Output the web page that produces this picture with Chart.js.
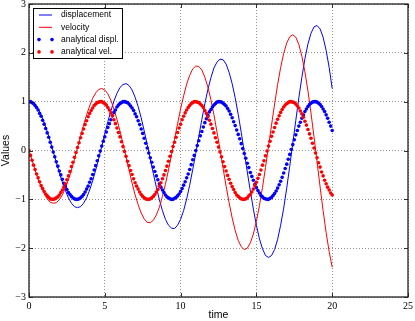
<!DOCTYPE html>
<html>
<head>
<meta charset="utf-8">
<script src="https://cdn.jsdelivr.net/npm/chart.js@4/dist/chart.umd.min.js"></script>
<style>
html,body{margin:0;padding:0;background:#fff;}
#wrap{width:415px;height:321px;}
</style>
</head>
<body>
<div id="wrap"><canvas id="c" width="415" height="321"></canvas></div>
<script>
// ---- DATA ----
const seriesLabels = ['displacement', 'velocity', 'analytical displ.', 'analytical vel.'];
const xTickValues = [0, 5, 10, 15, 20, 25];
const yTickValues = [-3, -2, -1, 0, 1, 2, 3];

// time stamps of the numerical solution (lines)
const timeCoarse = [
0,0.2,0.4,0.6,0.8,1,1.2,1.4,1.6,1.8,
2,2.2,2.4,2.6,2.8,3,3.2,3.4,3.6,3.8,
4,4.2,4.4,4.6,4.8,5,5.2,5.4,5.6,5.8,
6,6.2,6.4,6.6,6.8,7,7.2,7.4,7.6,7.8,
8,8.2,8.4,8.6,8.8,9,9.2,9.4,9.6,9.8,
10,10.2,10.4,10.6,10.8,11,11.2,11.4,11.6,11.8,
12,12.2,12.4,12.6,12.8,13,13.2,13.4,13.6,13.8,
14,14.2,14.4,14.6,14.8,15,15.2,15.4,15.6,15.8,
16,16.2,16.4,16.6,16.8,17,17.2,17.4,17.6,17.8,
18,18.2,18.4,18.6,18.8,19,19.2,19.4,19.6,19.8,
20];
const displacement = [
1.00,0.99,0.94,0.85,0.73,0.57,0.39,0.19,-0.03,-0.24,
-0.45,-0.65,-0.82,-0.97,-1.08,-1.15,-1.17,-1.15,-1.08,-0.97,
-0.81,-0.62,-0.40,-0.16,0.09,0.34,0.59,0.81,1.01,1.17,
1.29,1.35,1.37,1.33,1.24,1.09,0.90,0.67,0.40,0.12,
-0.18,-0.47,-0.75,-1.01,-1.23,-1.41,-1.53,-1.59,-1.60,-1.53,
-1.41,-1.23,-0.99,-0.71,-0.39,-0.06,0.29,0.63,0.96,1.25,
1.49,1.69,1.81,1.87,1.86,1.77,1.60,1.37,1.08,0.74,
0.37,-0.03,-0.44,-0.83,-1.20,-1.53,-1.81,-2.01,-2.15,-2.19,
-2.15,-2.03,-1.82,-1.53,-1.18,-0.77,-0.32,0.15,0.62,1.08,
1.50,1.88,2.18,2.40,2.53,2.56,2.49,2.32,2.05,1.70,
1.27];
const velocity = [
0.00,-0.20,-0.40,-0.58,-0.74,-0.88,-0.99,-1.06,-1.08,-1.07,
-1.01,-0.91,-0.77,-0.60,-0.40,-0.18,0.06,0.29,0.52,0.73,
0.91,1.07,1.18,1.25,1.27,1.24,1.16,1.03,0.85,0.64,
0.40,0.14,-0.13,-0.40,-0.67,-0.91,-1.11,-1.28,-1.40,-1.47,
-1.48,-1.43,-1.32,-1.16,-0.94,-0.69,-0.40,-0.09,0.23,0.55,
0.85,1.12,1.36,1.54,1.67,1.73,1.72,1.65,1.50,1.30,
1.04,0.73,0.38,0.02,-0.36,-0.73,-1.07,-1.38,-1.64,-1.84,
-1.97,-2.03,-2.00,-1.89,-1.71,-1.45,-1.13,-0.76,-0.35,0.09,
0.52,0.95,1.35,1.70,1.99,2.20,2.33,2.37,2.32,2.17,
1.93,1.61,1.22,0.77,0.28,-0.23,-0.74,-1.23,-1.68,-2.07,
-2.39];

// time stamps of the analytical points (dots)
const timeFine = [
0,0.1,0.2,0.3,0.4,0.5,0.6,0.7,0.8,0.9,
1,1.1,1.2,1.3,1.4,1.5,1.6,1.7,1.8,1.9,
2,2.1,2.2,2.3,2.4,2.5,2.6,2.7,2.8,2.9,
3,3.1,3.2,3.3,3.4,3.5,3.6,3.7,3.8,3.9,
4,4.1,4.2,4.3,4.4,4.5,4.6,4.7,4.8,4.9,
5,5.1,5.2,5.3,5.4,5.5,5.6,5.7,5.8,5.9,
6,6.1,6.2,6.3,6.4,6.5,6.6,6.7,6.8,6.9,
7,7.1,7.2,7.3,7.4,7.5,7.6,7.7,7.8,7.9,
8,8.1,8.2,8.3,8.4,8.5,8.6,8.7,8.8,8.9,
9,9.1,9.2,9.3,9.4,9.5,9.6,9.7,9.8,9.9,
10,10.1,10.2,10.3,10.4,10.5,10.6,10.7,10.8,10.9,
11,11.1,11.2,11.3,11.4,11.5,11.6,11.7,11.8,11.9,
12,12.1,12.2,12.3,12.4,12.5,12.6,12.7,12.8,12.9,
13,13.1,13.2,13.3,13.4,13.5,13.6,13.7,13.8,13.9,
14,14.1,14.2,14.3,14.4,14.5,14.6,14.7,14.8,14.9,
15,15.1,15.2,15.3,15.4,15.5,15.6,15.7,15.8,15.9,
16,16.1,16.2,16.3,16.4,16.5,16.6,16.7,16.8,16.9,
17,17.1,17.2,17.3,17.4,17.5,17.6,17.7,17.8,17.9,
18,18.1,18.2,18.3,18.4,18.5,18.6,18.7,18.8,18.9,
19,19.1,19.2,19.3,19.4,19.5,19.6,19.7,19.8,19.9,
20];
const analyticalDispl = [
1.00,1.00,0.98,0.96,0.92,0.88,0.83,0.76,0.70,0.62,
0.54,0.45,0.36,0.27,0.17,0.07,-0.03,-0.13,-0.23,-0.32,
-0.42,-0.50,-0.59,-0.67,-0.74,-0.80,-0.86,-0.90,-0.94,-0.97,
-0.99,-1.00,-1.00,-0.99,-0.97,-0.94,-0.90,-0.85,-0.79,-0.73,
-0.65,-0.58,-0.49,-0.40,-0.31,-0.21,-0.11,-0.01,0.09,0.19,
0.28,0.38,0.47,0.55,0.63,0.71,0.78,0.83,0.89,0.93,
0.96,0.98,1.00,1.00,0.99,0.98,0.95,0.91,0.87,0.82,
0.75,0.69,0.61,0.53,0.44,0.35,0.25,0.15,0.05,-0.05,
-0.15,-0.24,-0.34,-0.43,-0.52,-0.60,-0.68,-0.75,-0.81,-0.86,
-0.91,-0.95,-0.97,-0.99,-1.00,-1.00,-0.98,-0.96,-0.93,-0.89,
-0.84,-0.78,-0.71,-0.64,-0.56,-0.48,-0.39,-0.29,-0.19,-0.10,
0.00,0.10,0.20,0.30,0.39,0.48,0.57,0.65,0.72,0.79,
0.84,0.89,0.93,0.96,0.99,1.00,1.00,0.99,0.97,0.94,
0.91,0.86,0.81,0.74,0.67,0.59,0.51,0.42,0.33,0.24,
0.14,0.04,-0.06,-0.16,-0.26,-0.35,-0.45,-0.53,-0.61,-0.69,
-0.76,-0.82,-0.87,-0.92,-0.95,-0.98,-0.99,-1.00,-1.00,-0.98,
-0.96,-0.92,-0.88,-0.83,-0.77,-0.70,-0.63,-0.55,-0.46,-0.37,
-0.28,-0.18,-0.08,0.02,0.12,0.22,0.32,0.41,0.50,0.58,
0.66,0.73,0.80,0.85,0.90,0.94,0.97,0.99,1.00,1.00,
0.99,0.97,0.94,0.90,0.85,0.80,0.73,0.66,0.58,0.50,
0.41];
const analyticalVel = [
0.00,-0.10,-0.20,-0.30,-0.39,-0.48,-0.56,-0.64,-0.72,-0.78,
-0.84,-0.89,-0.93,-0.96,-0.99,-1.00,-1.00,-0.99,-0.97,-0.95,
-0.91,-0.86,-0.81,-0.75,-0.68,-0.60,-0.52,-0.43,-0.33,-0.24,
-0.14,-0.04,0.06,0.16,0.26,0.35,0.44,0.53,0.61,0.69,
0.76,0.82,0.87,0.92,0.95,0.98,0.99,1.00,1.00,0.98,
0.96,0.93,0.88,0.83,0.77,0.71,0.63,0.55,0.46,0.37,
0.28,0.18,0.08,-0.02,-0.12,-0.22,-0.31,-0.41,-0.49,-0.58,
-0.66,-0.73,-0.79,-0.85,-0.90,-0.94,-0.97,-0.99,-1.00,-1.00,
-0.99,-0.97,-0.94,-0.90,-0.85,-0.80,-0.73,-0.66,-0.58,-0.50,
-0.41,-0.32,-0.22,-0.12,-0.02,0.08,0.17,0.27,0.37,0.46,
0.54,0.63,0.70,0.77,0.83,0.88,0.92,0.96,0.98,1.00,
1.00,0.99,0.98,0.95,0.92,0.88,0.82,0.76,0.69,0.62,
0.54,0.45,0.36,0.26,0.17,0.07,-0.03,-0.13,-0.23,-0.33,
-0.42,-0.51,-0.59,-0.67,-0.74,-0.80,-0.86,-0.91,-0.94,-0.97,
-0.99,-1.00,-1.00,-0.99,-0.97,-0.93,-0.90,-0.85,-0.79,-0.72,
-0.65,-0.57,-0.49,-0.40,-0.30,-0.21,-0.11,-0.01,0.09,0.19,
0.29,0.38,0.47,0.56,0.64,0.71,0.78,0.84,0.89,0.93,
0.96,0.98,1.00,1.00,0.99,0.98,0.95,0.91,0.87,0.81,
0.75,0.68,0.60,0.52,0.43,0.34,0.25,0.15,0.05,-0.05,
-0.15,-0.25,-0.34,-0.44,-0.52,-0.61,-0.68,-0.75,-0.81,-0.87,
-0.91];

// ---- build chart ----
const pts = (xs, ys) => xs.map((x, i) => ({x: x, y: ys[i]}));
const BLUE = '#0000ff', RED = '#ff0000';

const frameAndTicks = {
  id: 'frameAndTicks',
  afterDatasetsDraw(chart) {
    const {ctx, chartArea: a, scales} = chart;
    ctx.save();
    ctx.strokeStyle = '#000';
    ctx.lineWidth = 0.8;
    const L = 4;
    scales.x.ticks.forEach(t => {
      const px = Math.round(scales.x.getPixelForValue(t.value)) + 0.5;
      ctx.beginPath();
      ctx.moveTo(px, a.bottom); ctx.lineTo(px, a.bottom - L);
      ctx.moveTo(px, a.top); ctx.lineTo(px, a.top + L);
      ctx.stroke();
    });
    scales.y.ticks.forEach(t => {
      const py = Math.round(scales.y.getPixelForValue(t.value)) + 0.5;
      ctx.beginPath();
      ctx.moveTo(a.left, py); ctx.lineTo(a.left + L, py);
      ctx.moveTo(a.right, py); ctx.lineTo(a.right - L, py);
      ctx.stroke();
    });
    ctx.strokeStyle = '#222';
    ctx.lineWidth = 1.3;
    ctx.strokeRect(a.left, a.top, a.right - a.left, a.bottom - a.top);
    ctx.restore();
  }
};

const boxLegend = {
  id: 'boxLegend',
  afterDraw(chart) {
    const {ctx} = chart;
    const ds = chart.data.datasets;
    const bx = 33.5, by = 8.5, bw = 89, bh = 50;
    ctx.save();
    ctx.fillStyle = '#fff';
    ctx.fillRect(bx, by, bw, bh);
    ctx.strokeStyle = '#000';
    ctx.lineWidth = 1;
    ctx.strokeRect(bx, by, bw, bh);
    ctx.font = '8.5px "Liberation Sans", Arial, sans-serif';
    ctx.textBaseline = 'middle';
    ds.forEach((d, i) => {
      const y = 15 + i * 12.3;
      if (d.showLine) {
        ctx.strokeStyle = d.borderColor;
        ctx.lineWidth = 1;
        ctx.beginPath(); ctx.moveTo(39, y); ctx.lineTo(52, y); ctx.stroke();
      } else {
        ctx.fillStyle = d.pointBackgroundColor;
        [39, 52].forEach(px => { ctx.beginPath(); ctx.arc(px, y, 1.8, 0, Math.PI * 2); ctx.fill(); });
      }
      ctx.fillStyle = '#000';
      ctx.fillText(d.label, 61, y);
    });
    ctx.restore();
  }
};

const minus = v => String(v).replace('-', '\u2212');

new Chart(document.getElementById('c'), {
  type: 'scatter',
  data: {
    datasets: [
      {label: seriesLabels[0], data: pts(timeCoarse, displacement), showLine: true, borderColor: BLUE, borderWidth: 1, pointRadius: 0, tension: 0, order: 4},
      {label: seriesLabels[1], data: pts(timeCoarse, velocity), showLine: true, borderColor: RED, borderWidth: 1, pointRadius: 0, tension: 0, order: 3},
      {label: seriesLabels[2], data: pts(timeFine, analyticalDispl), showLine: false, pointRadius: 1.8, pointBorderWidth: 0, pointBackgroundColor: BLUE, borderColor: BLUE, order: 2},
      {label: seriesLabels[3], data: pts(timeFine, analyticalVel), showLine: false, pointRadius: 1.8, pointBorderWidth: 0, pointBackgroundColor: RED, borderColor: RED, order: 1}
    ]
  },
  options: {
    responsive: false,
    animation: false,
    events: [],
    layout: {padding: {top: 4, right: 7, left: 0, bottom: 0}},
    plugins: {legend: {display: false}, tooltip: {enabled: false}},
    scales: {
      x: {
        type: 'linear', min: 0, max: 25,
        afterBuildTicks: s => { s.ticks = xTickValues.map(v => ({value: v})); },
        afterFit: s => { s.height = 24; s.paddingLeft = 0; s.paddingRight = 0; },
        ticks: {padding: 3, color: '#000', maxRotation: 0, autoSkip: false,
                font: {family: '"Liberation Serif", "DejaVu Serif", serif', size: 10},
                callback: v => minus(v)},
        grid: {color: '#777', lineWidth: 0.8, drawTicks: false},
        border: {display: false, dash: [1, 2]},
        title: {display: true, text: 'time', color: '#000', padding: 0,
                font: {family: '"Liberation Sans", Arial, sans-serif', size: 10.5}}
      },
      y: {
        type: 'linear', min: -3, max: 3,
        afterBuildTicks: s => { s.ticks = yTickValues.map(v => ({value: v})); },
        afterFit: s => { s.width = 29; s.paddingTop = 0; s.paddingBottom = 0; },
        ticks: {padding: 3, color: '#000', autoSkip: false,
                font: {family: '"Liberation Serif", "DejaVu Serif", serif', size: 10},
                callback: v => minus(v)},
        grid: {color: '#777', lineWidth: 0.8, drawTicks: false},
        border: {display: false, dash: [1, 2]},
        title: {display: true, text: 'Values', color: '#000', padding: 0,
                font: {family: '"Liberation Sans", Arial, sans-serif', size: 10.5}}
      }
    }
  },
  plugins: [frameAndTicks, boxLegend]
});
</script>
</body>
</html>
